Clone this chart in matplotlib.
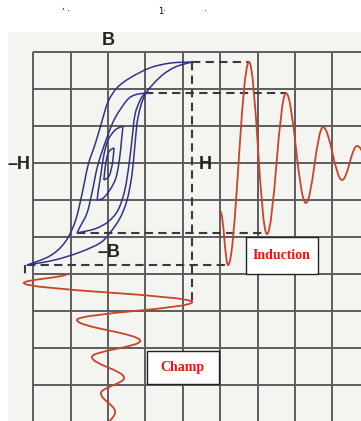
import numpy as np
import matplotlib.pyplot as plt
from matplotlib.path import Path
from matplotlib.patches import PathPatch, Rectangle

# Units: one grid cell = 1, origin at the centre of the hysteresis loops

# Hysteresis loops (H, B), descending branch then ascending branch
outer_down_h = [2.25, 1.66, 1.12, 0.59, 0.24, 0.0, -0.19, -0.35, -0.53, -0.70, -0.88, -1.15, -1.55, -2.17]
outer_down_b = [2.73, 2.70, 2.57, 2.30, 2.03, 1.65, 1.03, 0.49, -0.05, -0.86, -1.59, -2.14, -2.51, -2.76]
outer_up_h = [-2.17, -1.42, -0.75, -0.21, 0.05, 0.32, 0.51, 0.64, 0.72, 0.80, 0.99, 1.39, 1.79, 2.25]
outer_up_b = [-2.76, -2.62, -2.41, -2.16, -1.89, -1.49, -1.00, -0.32, 0.49, 1.22, 1.84, 2.32, 2.59, 2.73]

loop2_down_h = [0.99, 0.72, 0.51, 0.19, -0.03, -0.27, -0.43, -0.56, -0.75, -0.83]
loop2_down_b = [1.89, 1.84, 1.70, 1.22, 0.68, -0.05, -0.81, -1.35, -1.73, -1.89]
loop2_up_h = [-0.83, -0.35, 0.0, 0.27, 0.45, 0.56, 0.64, 0.72, 0.86, 0.99]
loop2_up_b = [-1.89, -1.78, -1.59, -1.27, -0.73, -0.05, 0.62, 1.30, 1.70, 1.89]

loop3_down_h = [0.40, 0.19, 0.0, -0.11, -0.19, -0.26, -0.29]
loop3_down_b = [1.00, 0.89, 0.62, 0.22, -0.30, -0.75, -1.00]
loop3_up_h = [-0.29, -0.13, 0.05, 0.21, 0.30, 0.36, 0.40]
loop3_up_b = [-1.00, -0.95, -0.73, -0.41, 0.05, 0.60, 1.00]

loop4_down_h = [0.16, 0.02, -0.06, -0.11]
loop4_down_b = [0.41, 0.30, 0.00, -0.46]
loop4_up_h = [-0.11, 0.03, 0.12, 0.16]
loop4_up_b = [-0.46, -0.35, 0.00, 0.41]

# Induction vs time (time to the right): start, then extremes
ind_t = [3.01, 3.21, 3.77, 4.25, 4.76, 5.29, 5.75, 6.26, 6.66, 7.10]
ind_b = [-1.32, -2.76, 2.73, -1.92, 1.89, -1.08, 0.97, -0.46, 0.46, -0.20]

# Field vs time (time downwards): start, then extremes
champ_t = [-3.00, -3.24, -3.76, -4.24, -4.81, -5.24, -5.81, -6.22, -6.73, -7.22]
champ_h = [-1.10, -2.25, 2.25, -0.83, 0.86, -0.43, 0.43, -0.19, 0.19, -0.11]

# Projection lines (dashed)
dash_h = [(2.25, 3.77), (0.99, 4.76), (-0.83, 4.25), (-2.17, 3.21)]
dash_b = [2.73, 1.89, -1.89, -2.76]

BLUE = '#2e3586'
RED = '#c8452a'
GRID = '#5c5c5c'


def smooth_path(xs, ys):
    pts = np.column_stack([xs, ys]).astype(float)
    n = len(pts)
    verts = [pts[0]]
    codes = [Path.MOVETO]
    for i in range(n - 1):
        p0 = pts[i - 1] if i > 0 else pts[i]
        p1, p2 = pts[i], pts[i + 1]
        p3 = pts[i + 2] if i + 2 < n else pts[i + 1]
        verts += [p1 + (p2 - p0) / 6, p2 - (p3 - p1) / 6, p2]
        codes += [Path.CURVE4] * 3
    return Path(verts, codes)


def wave_path(ts, vs, vertical=False, k=0.364):
    def pt(t, v):
        return (v, t) if vertical else (t, v)
    verts = [pt(ts[0], vs[0])]
    codes = [Path.MOVETO]
    for i in range(len(ts) - 1):
        dt = ts[i + 1] - ts[i]
        verts += [pt(ts[i] + k * dt, vs[i]), pt(ts[i + 1] - k * dt, vs[i + 1]), pt(ts[i + 1], vs[i + 1])]
        codes += [Path.CURVE4] * 3
    return Path(verts, codes)


fig = plt.figure(figsize=(3.61, 4.21), dpi=100)
ax = fig.add_axes([0, 0, 1, 1])
ax.set_xlim(-108 / 37.4, (361 - 108) / 37.4)
ax.set_ylim((163 - 421) / 37, 163 / 37)
ax.axis('off')

# scanned paper
ax.add_patch(Rectangle((-2.67, -8), 12, 11.54, facecolor='#f4f4f1', edgecolor='none', zorder=0))

# grid
ax.vlines(np.arange(-2, 8), -8, 3, color=GRID, lw=1.4, zorder=1)
ax.hlines(np.arange(3, -7, -1), -2, 8, color=GRID, lw=1.4, zorder=1)

# dashed projections
for (h0, h1), b in zip(dash_h, dash_b):
    ax.plot([h0, h1], [b, b], color='#3a3a3a', lw=1.5, dashes=(4, 2.5), zorder=2)
ax.plot([2.25, 2.25], [2.73, -3.76], color='#3a3a3a', lw=1.5, dashes=(4, 2.5), zorder=2)
ax.plot([-2.22, -2.22], [-2.76, -3.05], color='#3a3a3a', lw=1.5, dashes=(4, 2.5), zorder=2)

# hysteresis loops
for xs, ys in [(outer_down_h, outer_down_b), (outer_up_h, outer_up_b),
               (loop2_down_h, loop2_down_b), (loop2_up_h, loop2_up_b),
               (loop3_down_h, loop3_down_b), (loop3_up_h, loop3_up_b),
               (loop4_down_h, loop4_down_b), (loop4_up_h, loop4_up_b)]:
    ax.add_patch(PathPatch(smooth_path(xs, ys), fill=False, edgecolor=BLUE, lw=1.1, zorder=3))

# induction and field waves
ax.add_patch(PathPatch(wave_path(ind_t, ind_b), fill=False, edgecolor=RED, lw=1.3, zorder=3))
ax.add_patch(PathPatch(wave_path(champ_t, champ_h, vertical=True), fill=False, edgecolor=RED, lw=1.3, zorder=3))

# axis labels
lab = dict(fontsize=13, fontweight='bold', color='#222222', ha='center', va='center',
           family=['Liberation Sans', 'DejaVu Sans'], zorder=5)
ax.text(0.0, 3.32, 'B', **lab)
ax.text(-2.38, -0.03, '–H', **lab)
ax.text(2.59, -0.03, 'H', **lab)
ax.text(0.03, -2.41, '–B', **lab)

# boxed captions
box = dict(fontsize=10, fontweight='bold', color='#ee1111', ha='center', va='center',
           family=['Liberation Serif', 'DejaVu Serif'], zorder=6)
ax.add_patch(Rectangle((3.69, -3.0), 1.92, 1.0, facecolor='white', edgecolor='#222222', lw=1, zorder=5))
ax.text(4.65, -2.5, 'Induction', **box)
ax.add_patch(Rectangle((1.04, -5.97), 1.93, 0.89, facecolor='white', edgecolor='#222222', lw=1, zorder=5))
ax.text(2.0, -5.53, 'Champ', **box)

# remnants of the cropped title line
fig.text(62 / 361, 1 - 12 / 421, 'ʻ ·', fontsize=6, color='black', va='center')
fig.text(158 / 361, 1 - 12 / 421, '1·', fontsize=6, color='black', va='center')
fig.text(203 / 361, 1 - 12 / 421, '·', fontsize=6, color='black', va='center')

fig.savefig('out.png', dpi=100)
